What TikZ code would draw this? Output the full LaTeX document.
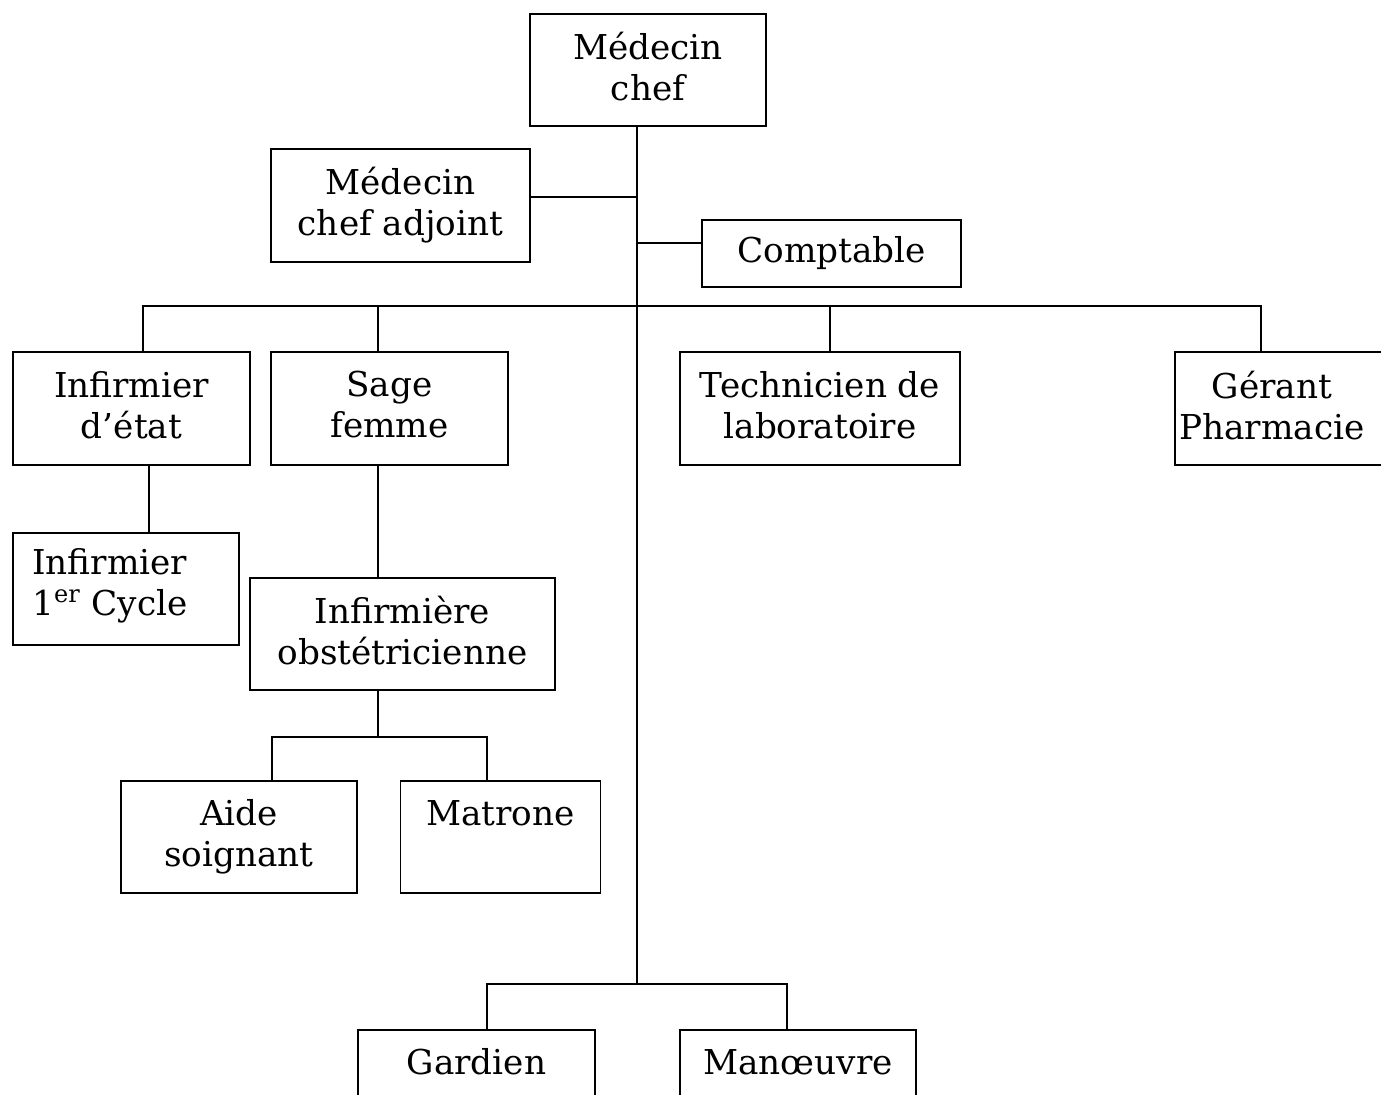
\documentclass[tikz,border=0pt]{standalone}
\usepackage{fontspec}
\setmainfont{DejaVu Serif}
\begin{document}
\begin{tikzpicture}[x=0.02cm,y=-0.02cm,
  every node/.style={font=\fontsize{19.5}{23.3}\selectfont},
  orgbox/.style={draw, line width=1.1pt, align=center, inner sep=0pt},
  link/.style={line width=1.1pt},
  txt/.style={inner sep=0pt}]
\useasboundingbox (0,0) rectangle (1381,1094);
\clip (0,0) rectangle (1381,1094);
\fill[white] (0,0) rectangle (1381,1094);

% boxes
\node[orgbox, minimum width=4.72cm, minimum height=2.24cm] (chef) at (648,70) {Médecin\\chef\vphantom{g}};
\node[orgbox, minimum width=5.18cm, minimum height=2.26cm] (adjoint) at (400.5,205.5) {Médecin\\chef adjoint};
\node[orgbox, minimum width=5.18cm, minimum height=1.34cm] (compta) at (831.5,253.5) {Comptable};
\node[orgbox, minimum width=4.74cm, minimum height=2.26cm] (infetat) at (131.5,408.5) {Infirmier\\d’état\vphantom{g}};
\node[orgbox, minimum width=4.74cm, minimum height=2.26cm] (sage) at (389.5,408.5) {Sage\\femme\vphantom{g}};
\node[orgbox, minimum width=5.6cm, minimum height=2.26cm] (tech) at (820,408.5) {Technicien de\\laboratoire\vphantom{g}};
\node[orgbox, minimum width=4.74cm, minimum height=2.26cm] (gerant) at (1293.5,408.5) {};
\node[txt, align=center] (gerant-t) at (1272,406) {Gérant\\Pharmacie};
\node[orgbox, minimum width=4.52cm, minimum height=2.24cm] (inf1) at (126,589) {};
\node[txt, align=left, anchor=west] (inf1-t) at (32,586) {Infirmier\\1\textsuperscript{er} Cycle};
\node[orgbox, minimum width=6.1cm, minimum height=2.24cm] (obst) at (402.5,634) {Infirmière\\obstétricienne\vphantom{g}};
\node[orgbox, minimum width=4.72cm, minimum height=2.24cm] (aide) at (239,837) {Aide\\soignant};
\node[orgbox, minimum width=4.0cm, minimum height=2.24cm] (matrone) at (500.5,837) {Matrone\\\phantom{g}};
\node[orgbox, minimum width=4.74cm, minimum height=2.24cm] (gardien) at (476.5,1086) {Gardien\\\phantom{g}};
\node[orgbox, minimum width=4.72cm, minimum height=2.24cm] (manoeuvre) at (798,1086) {Manœuvre\\\phantom{g}};

% helper coordinates
\coordinate (spine) at (637,984);
\coordinate (bus) at (637,306);
\coordinate (x1) at (143,0);
\coordinate (x2) at (378,0);
\coordinate (x3) at (830,0);
\coordinate (x4) at (1261,0);
\coordinate (x5) at (149,0);
\coordinate (bar) at (378,737);
\coordinate (ya) at (272,0);
\coordinate (yb) at (487,0);
\coordinate (yc) at (787,0);

% spine
\draw[link] (chef.south -| spine) -- (spine);
\draw[link] ([yshift=0.17cm]adjoint.east) -- ([yshift=0.17cm]adjoint.east -| spine);
\draw[link] ([yshift=0.21cm]compta.west) -- ([yshift=0.21cm]compta.west -| spine);

% bus to level 2
\draw[link] (infetat.north -| x1) -- (x1 |- bus) -- (x4 |- bus) -- (gerant.north -| x4);
\draw[link] (x2 |- bus) -- (sage.north -| x2);
\draw[link] (x3 |- bus) -- (tech.north -| x3);

% sub trees
\draw[link] (infetat.south -| x5) -- (inf1.north -| x5);
\draw[link] (sage.south -| x2) -- (obst.north -| x2);
\draw[link] (obst.south -| bar) -- (bar);
\draw[link] (aide.north -| ya) -- (ya |- bar) -- (yb |- bar) -- (matrone.north -| yb);

% bottom
\draw[link] (gardien.north -| yb) -- (yb |- spine) -- (yc |- spine) -- (manoeuvre.north -| yc);
\end{tikzpicture}
\end{document}
